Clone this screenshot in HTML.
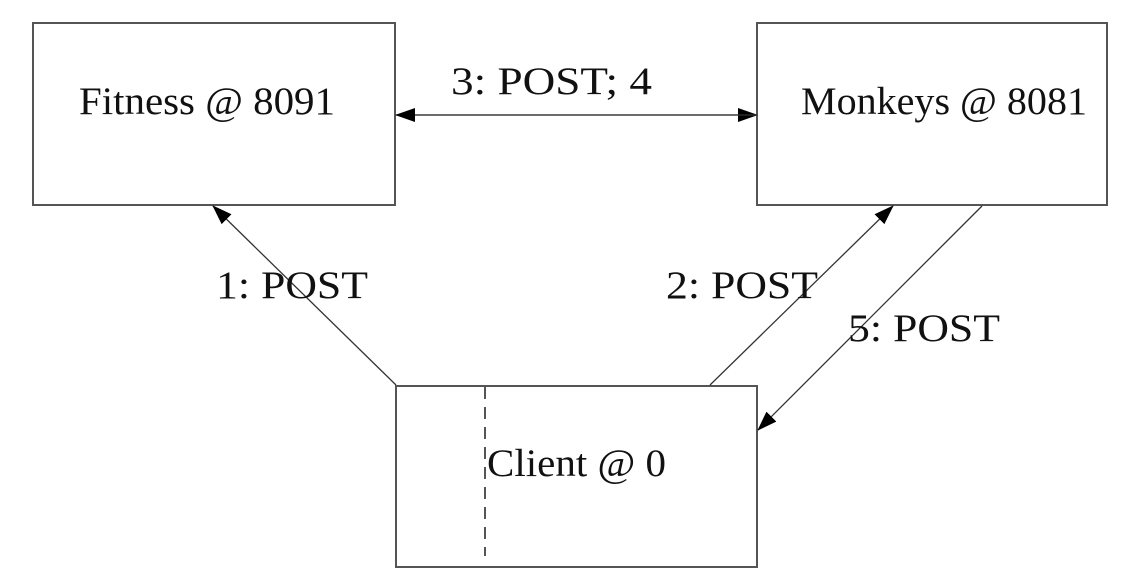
<!DOCTYPE html>
<html><head><meta charset="utf-8"><style>html,body{margin:0;padding:0;background:#fff;width:1148px;height:588px;overflow:hidden}</style></head>
<body>
<svg width="1148" height="588" viewBox="0 0 1148 588" xmlns="http://www.w3.org/2000/svg" font-family="Liberation Serif, serif" font-size="39" fill="#111">
<defs>
<marker id="a" markerWidth="20" markerHeight="14" refX="19" refY="7" orient="auto" markerUnits="userSpaceOnUse">
<path d="M0,0 L20,7 L0,14 z" fill="#000"/></marker>
</defs>
<g fill="none" stroke="#555" stroke-width="2">
<rect x="33" y="23" width="362" height="182"/>
<rect x="757" y="23" width="350" height="182"/>
<rect x="396" y="386" width="361" height="181"/>
</g>
<line x1="485" y1="387" x2="485" y2="556" stroke="#555" stroke-width="2" stroke-dasharray="12,8"/>
<g stroke="#333" stroke-width="1.3">
<line x1="397" y1="115" x2="757" y2="115" marker-end="url(#a)"/>
<line x1="757" y1="115" x2="396" y2="115" marker-end="url(#a)"/>
<line x1="396" y1="385" x2="213" y2="206" marker-end="url(#a)"/>
<line x1="710" y1="385" x2="893" y2="206" marker-end="url(#a)"/>
<line x1="982" y1="206" x2="758" y2="430" marker-end="url(#a)"/>
</g>
<text x="79" y="114" textLength="256" lengthAdjust="spacingAndGlyphs">Fitness @ 8091</text>
<text x="801" y="114" textLength="286" lengthAdjust="spacingAndGlyphs">Monkeys @ 8081</text>
<text x="487" y="476" textLength="179" lengthAdjust="spacingAndGlyphs">Client @ 0</text>
<text x="451" y="94" textLength="201" lengthAdjust="spacingAndGlyphs">3: POST; 4</text>
<text x="216" y="298" textLength="152" lengthAdjust="spacingAndGlyphs">1: POST</text>
<text x="666" y="298" textLength="152" lengthAdjust="spacingAndGlyphs">2: POST</text>
<text x="848" y="341" textLength="152" lengthAdjust="spacingAndGlyphs">5: POST</text>
</svg>
</body></html>
